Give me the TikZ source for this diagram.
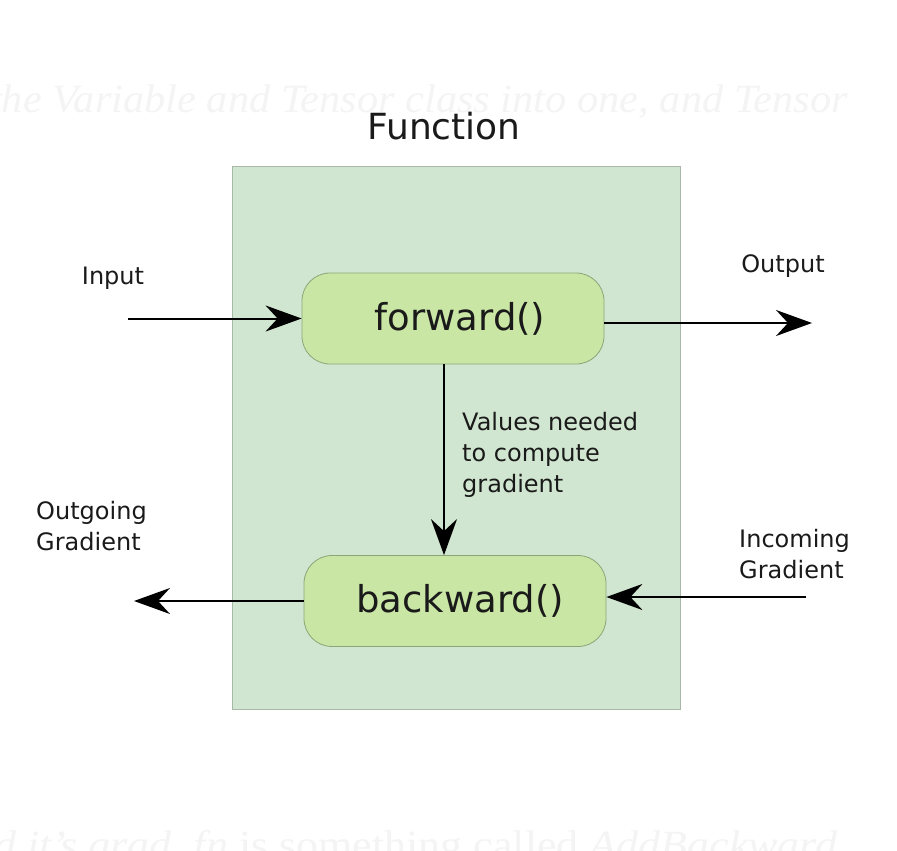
\documentclass[tikz,border=0pt]{standalone}
\usepackage{fontspec}
\setmainfont{DejaVu Sans}
\newfontfamily\faintfont{Liberation Serif}
\usetikzlibrary{arrows.meta}
\definecolor{outerfill}{RGB}{209,230,208}
\definecolor{outerdraw}{RGB}{168,184,168}
\definecolor{boxfill}{RGB}{201,230,165}
\definecolor{boxdraw}{RGB}{140,165,120}
\definecolor{inktext}{RGB}{26,26,26}
\definecolor{faint}{RGB}{244,244,244}
\tikzset{
  fnbox/.style={draw=boxdraw, fill=boxfill, line width=0.8pt, rounded corners=28pt,
    minimum width=302pt, minimum height=91pt, inner sep=0pt, text=inktext,
    font=\fontsize{37}{44}\selectfont},
  lbl/.style={text=inktext, font=\fontsize{24}{31}\selectfont, inner sep=0pt, align=left},
  arr/.style={draw=black, line width=2pt, -{Stealth[length=36pt,width=26pt,inset=12pt]}},
  bgtext/.style={text=faint, inner sep=0pt, font=\faintfont\itshape\fontsize{40}{44}\selectfont}
}
\begin{document}
\begin{tikzpicture}[x=1pt,y=-1pt]
\useasboundingbox (0,0) rectangle (897,851);
\clip (0,0) rectangle (897,851);
\fill[white] (0,0) rectangle (897,851);
% faint background text
\node[bgtext, anchor=base west] (bgtop) at (-10,112) {\scalebox{1.06}[1]{the Variable and Tensor class into one, and Tensor}};
\node[bgtext, anchor=base west] (bgbot) at (-6,858) {\scalebox{1.1}[1]{d it’s \textit{grad\_fn} \upshape is something called \itshape AddBackward}};
% outer function box
\node[draw=outerdraw, fill=outerfill, line width=1pt, minimum width=448pt, minimum height=543pt, inner sep=0pt] (func) at (456,437.5) {};
\node[text=inktext, font=\fontsize{36}{40}\selectfont, inner sep=0pt] (title) at (444,126) {Function};
% inner boxes
\node[fnbox] (fwd) at (453,318.5) {\hspace{14pt}forward()};
\node[fnbox] (bwd) at (455,601) {\hspace{10pt}backward()};
% labels
\node[lbl] (inlbl) at (113,278) {Input};
\node[lbl] (outlbl) at (783,266) {Output};
\node[lbl, anchor=west] (vals) at (462,455) {Values needed\\to compute\\gradient};
\node[lbl, anchor=west] (oglbl) at (36,526) {Outgoing\\Gradient};
\node[lbl, anchor=west] (iclbl) at (739,554) {Incoming\\Gradient};
% connector ends
\coordinate (inL) at (128,318.5);
\coordinate (outR) at (812,323);
\coordinate (vx) at (444,0);
\coordinate (ogL) at (134,601);
\coordinate (icR) at (806,597);
% connectors
\draw[arr] (inL) -- (fwd.west);
\draw[arr] (fwd.east |- outR) -- (outR);
\draw[arr] (fwd.south -| vx) -- (bwd.north -| vx);
\draw[arr] (bwd.west) -- (ogL);
\draw[arr] (icR) -- (bwd.east |- icR);
\end{tikzpicture}
\end{document}
